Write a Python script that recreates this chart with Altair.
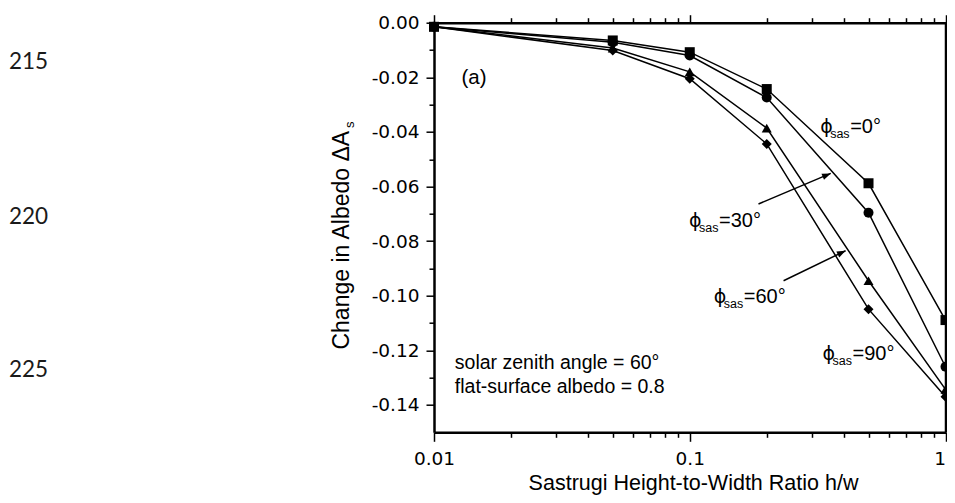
import altair as alt
import pandas as pd

# ---------------- data ----------------
ratio = [0.01, 0.05, 0.1, 0.2, 0.5, 1.0]
series_names = ["0", "30", "60", "90"]
d_phi0 = [-0.0015, -0.0065, -0.0108, -0.0243, -0.0588, -0.1089]
d_phi30 = [-0.0015, -0.0072, -0.0120, -0.0274, -0.0696, -0.1260]
d_phi60 = [-0.0015, -0.0093, -0.0180, -0.0386, -0.0945, -0.1343]
d_phi90 = [-0.0015, -0.0102, -0.0205, -0.0444, -0.1049, -0.1370]

x_major = [0.01, 0.1, 1.0]
x_minor = [0.02, 0.03, 0.04, 0.05, 0.06, 0.07, 0.08, 0.09,
           0.2, 0.3, 0.4, 0.5, 0.6, 0.7, 0.8, 0.9]
y_major = [0.0, -0.02, -0.04, -0.06, -0.08, -0.10, -0.12, -0.14]
y_minor = [-0.01, -0.03, -0.05, -0.07, -0.09, -0.11, -0.13]

# curve labels (phi_sas = ...), anchored in data coordinates
label_rest = ["=0°", "=30°", "=60°", "=90°"]
label_x = [0.3235, 0.0993, 0.1241, 0.3304]
label_y = [-0.0405, -0.0748, -0.1028, -0.1236]

# arrows (tail -> head) in data coordinates
arrow_x1 = [0.1857, 0.2327]
arrow_y1 = [-0.0664, -0.0945]
arrow_x2 = [0.3558, 0.4067]
arrow_y2 = [-0.0552, -0.0835]

note_lines = ["solar zenith angle = 60°", "flat-surface albedo = 0.8"]
note_x = [0.01206, 0.01206]
note_y = [-0.1247, -0.1333]

panel_label = ["(a)"]
panel_x = [0.0128]
panel_y = [-0.0204]

line_numbers = ["215", "220", "225"]

# ---------------- styles / layout ----------------
shapes = ["square", "circle", "triangle-up", "diamond"]
marker_sizes = [100, 100, 115, 130]
arrow_angles = [337, 334]
line_number_py = [39.3, 194.0, 347.3]

W, H = 511.5, 409.6

rows = []
for name, vals in zip(series_names, [d_phi0, d_phi30, d_phi60, d_phi90]):
    for r, v in zip(ratio, vals):
        rows.append({"ratio": r, "dA": v, "series": name})
df = pd.DataFrame(rows)

xs = alt.Scale(type="log", domain=[0.01, 1.0], nice=False)
ys = alt.Scale(domain=[-0.15, 0.0], nice=False, zero=False)

base_axis = dict(domainColor="black", domainWidth=2.5, tickColor="black",
                 tickWidth=1.5, grid=False, labelFont="DejaVu Sans",
                 labelFontSize=18.5, labelColor="black", title="")


def ax(**kw):
    d = dict(base_axis)
    d.update(kw)
    return alt.Axis(**d)


x_bottom_major = ax(
    orient="bottom", values=x_major, tickSize=9, labelPadding=8,
    labelFlush=False, labelOverlap=False,
    labelAlign={"condition": {"test": "datum.value >= 0.99", "value": "right"},
                "value": "center"},
    labelExpr="datum.value >= 0.99 ? '1' : (datum.value >= 0.099 ? '0.1' : '0.01')",
    title="Sastrugi Height-to-Width Ratio h/w", titleFont="Liberation Sans",
    titleFontSize=21.5, titleFontWeight="normal", titleColor="black",
    titleX=259, titleY=57, titleAlign="center", titleBaseline="alphabetic")
x_bottom_minor = ax(orient="bottom", values=x_minor, tickSize=5, labels=False,
                    domain=False)
x_top_major = ax(orient="top", values=x_major, tickSize=8, labels=False)
x_top_minor = ax(orient="top", values=x_minor, tickSize=5, labels=False,
                 domain=False)

y_left_major = ax(
    orient="left", values=y_major, tickSize=8, labelPadding=7,
    labelExpr="replace(format(datum.value, '.2f'), '\u2212', '-')",
    title="Change in Albedo ΔA", titleFont="Liberation Sans",
    titleFontSize=23, titleFontWeight="normal", titleColor="black",
    titleAngle=270, titleX=-93, titleY=217, titleAlign="center",
    titleBaseline="middle")
y_left_minor = ax(orient="left", values=y_minor, tickSize=5, labels=False,
                  domain=False)
y_right_major = ax(orient="right", values=y_major, tickSize=8, labels=False)
y_right_minor = ax(orient="right", values=y_minor, tickSize=5, labels=False,
                   domain=False)

lines = alt.Chart(df).mark_line(color="black", strokeWidth=1.5).encode(
    x=alt.X("ratio:Q", scale=xs, axis=x_bottom_major),
    y=alt.Y("dA:Q", scale=ys, axis=y_left_major),
    detail="series:N",
    order="ratio:Q",
)

points = alt.Chart(df).mark_point(filled=True, color="black", opacity=1).encode(
    x=alt.X("ratio:Q", scale=xs, axis=x_bottom_minor),
    y=alt.Y("dA:Q", scale=ys, axis=y_left_minor),
    shape=alt.Shape("series:N", scale=alt.Scale(domain=series_names, range=shapes), legend=None),
    size=alt.Size("series:O", scale=alt.Scale(domain=series_names, range=marker_sizes), legend=None),
)

frame_major = alt.Chart(df).mark_point(opacity=0).encode(
    x=alt.X("ratio:Q", scale=xs, axis=x_top_major),
    y=alt.Y("dA:Q", scale=ys, axis=y_right_major),
)
frame_minor = alt.Chart(df).mark_point(opacity=0).encode(
    x=alt.X("ratio:Q", scale=xs, axis=x_top_minor),
    y=alt.Y("dA:Q", scale=ys, axis=y_right_minor),
)

lab_df = pd.DataFrame({"x": label_x, "y": label_y, "rest": label_rest,
                       "phi": ["ϕ"] * 4, "sub": ["sas"] * 4})


def txt(data, field, **mk):
    return alt.Chart(data).mark_text(color="black", **mk).encode(
        x=alt.X("x:Q", scale=xs, axis=None),
        y=alt.Y("y:Q", scale=ys, axis=None),
        text=field,
    )


phi_txt = txt(lab_df, "phi:N", font="DejaVu Sans", fontSize=19, align="left",
              baseline="alphabetic", dx=0)
sub_txt = txt(lab_df, "sub:N", font="Liberation Sans", fontSize=12.5, align="left",
              baseline="alphabetic", dx=10, dy=5)
rest_txt = txt(lab_df, "rest:N", font="Liberation Sans", fontSize=20, align="left",
               baseline="alphabetic", dx=30)

note_df = pd.DataFrame({"x": note_x, "y": note_y, "t": note_lines})
note_txt = txt(note_df, "t:N", font="Liberation Sans", fontSize=19.5, align="left",
               baseline="middle")

panel_df = pd.DataFrame({"x": panel_x, "y": panel_y, "t": panel_label})
panel_txt = txt(panel_df, "t:N", font="Liberation Sans", fontSize=20.5, align="left",
                baseline="middle")

arrow_df = pd.DataFrame({"x": arrow_x1, "y": arrow_y1, "x2": arrow_x2, "y2": arrow_y2})
shafts = alt.Chart(arrow_df).mark_rule(color="black", strokeWidth=1.5).encode(
    x=alt.X("x:Q", scale=xs, axis=None),
    y=alt.Y("y:Q", scale=ys, axis=None),
    x2="x2:Q",
    y2="y2:Q",
)
heads = []
for i, ang in enumerate(arrow_angles):
    hd = pd.DataFrame({"x": [arrow_x2[i]], "y": [arrow_y2[i]]})
    heads.append(
        alt.Chart(hd).mark_point(shape="M0,0L-1,-0.38L-1,0.38Z", filled=True,
                                 color="black", opacity=1, size=300, angle=ang).encode(
            x=alt.X("x:Q", scale=xs, axis=None),
            y=alt.Y("y:Q", scale=ys, axis=None),
        )
    )

# subscript "s" of the y title
ysub = alt.Chart(pd.DataFrame({"t": ["s"]})).mark_text(
    font="Liberation Sans", fontSize=13, angle=270, align="center",
    baseline="middle", color="black").encode(
    x=alt.value(-84), y=alt.value(102), text="t:N")

# manuscript line numbers in the margin
ln_layers = []
for t, py in zip(line_numbers, line_number_py):
    ln_layers.append(
        alt.Chart(pd.DataFrame({"t": [t]})).mark_text(
            font="Lato", fontSize=22.5, align="left", baseline="middle",
            color="#1a1a1a").encode(x=alt.value(-425), y=alt.value(py), text="t:N")
    )

chart = alt.layer(
    lines, points, frame_major, frame_minor, shafts, *heads,
    phi_txt, sub_txt, rest_txt, note_txt, panel_txt, ysub, *ln_layers,
).resolve_axis(x="independent", y="independent").properties(
    width=W, height=H,
    autosize=alt.AutoSizeParams(type="none"),
    padding={"left": 426, "top": 14.7, "right": 1.5, "bottom": 62.7},
    background="white",
).configure_view(stroke=None)

chart.save("out.html", embed_options={"renderer": "svg", "actions": False})
